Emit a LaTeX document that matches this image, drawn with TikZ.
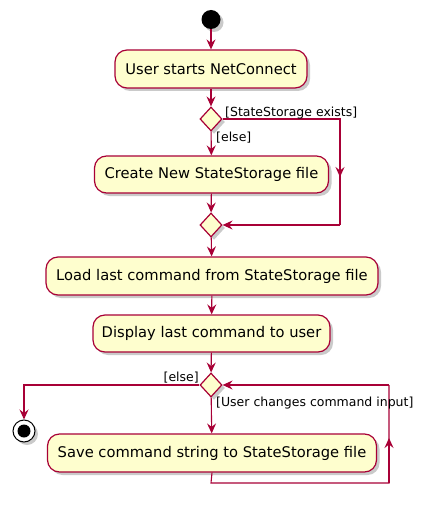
\documentclass[tikz,border=0pt]{standalone}
\usepackage{fontspec}
\setmainfont{DejaVu Sans}
\usetikzlibrary{shapes.geometric,arrows.meta,shadows,calc}
\definecolor{umlborder}{HTML}{A80036}
\definecolor{umlfill}{HTML}{FEFECE}
\tikzset{
  shad/.style={drop shadow={shadow xshift=3pt,shadow yshift=-3pt,opacity=0.35,fill=black!60}},
  action/.style={draw=umlborder,fill=umlfill,line width=1.2pt,rounded corners=12pt,shad,
    font=\fontsize{14.7}{17}\selectfont,inner sep=0pt,align=center},
  choice/.style={diamond,draw=umlborder,fill=umlfill,line width=1.2pt,shad,inner sep=0pt,
    minimum width=22pt,minimum height=24pt},
  flow/.style={draw=umlborder,line width=1.1pt,-{Stealth[length=10pt,width=9pt,inset=3.5pt]}},
  plain/.style={draw=umlborder,line width=1.1pt},
  guard/.style={font=\fontsize{12.5}{14}\selectfont,inner sep=1pt}
}
\begin{document}
\begin{tikzpicture}[x=1pt,y=-1pt]
\useasboundingbox (0,0) rectangle (424,505);
% start
\node[circle,fill=black,minimum size=19pt,inner sep=0pt,shad] (start) at (211,19.5) {};
% actions
\node[action,minimum width=192pt,minimum height=38pt] (a1) at (211,69) {User starts NetConnect};
\node[choice] (d1) at (211,119) {};
\node[action,minimum width=234pt,minimum height=37pt] (a2) at (211.5,174.5) {Create New StateStorage file};
\node[choice] (d2) at (211,225) {};
\node[action,minimum width=332pt,minimum height=38pt] (a3) at (212,276) {Load last command from StateStorage file};
\node[action,minimum width=237pt,minimum height=37pt] (a4) at (211.5,333.5) {Display last command to user};
\node[choice] (d3) at (211,385) {};
\node[action,minimum width=329pt,minimum height=38pt] (a5) at (212,453) {Save command string to StateStorage file};
% end
\node[circle,draw=black,fill=white,line width=1pt,minimum size=22pt,inner sep=0pt,shad] (stop) at (24,431) {};
\node[circle,fill=black,minimum size=13pt,inner sep=0pt] (stopdot) at (stop.center) {};
% coordinates
\coordinate (r1) at (340,119);
\coordinate (r2) at (340,225);
\coordinate (r1m) at (340,177);
\coordinate (l1) at (24,385);
\coordinate (b1) at (211,483);
\coordinate (b2) at (389,483);
\coordinate (b3) at (389,385);
\coordinate (b2m) at (389,438);
% connectors
\draw[flow] (start) -- (a1);
\draw[flow] (a1) -- (d1);
\draw[flow] (d1) -- (a2);
\draw[plain] (d1.east) -- (r1) -- (r2);
\draw[flow] (r1) -- (r1m);
\draw[flow] (r2) -- (d2.east);
\draw[flow] (a2) -- (d2);
\draw[flow] (d2) -- (a3);
\draw[flow] (a3) -- (a4);
\draw[flow] (a4) -- (d3);
\draw[flow] (d3.west) -- (l1) -- (stop.north);
\draw[flow] (d3) -- (a5);
\draw[plain] (a5.south) -- (b1) -- (b2) -- (b3);
\draw[flow] (b2) -- (b2m);
\draw[flow] (b3) -- (d3.east);
% guards
\node[guard,anchor=west] (g1) at (224,113) {[StateStorage exists]};
\node[guard,anchor=west] (g2) at (215,138) {[else]};
\node[guard,anchor=east] (g3) at (200,378) {[else]};
\node[guard,anchor=west] (g4) at (215,403) {[User changes command input]};
\end{tikzpicture}
\end{document}
